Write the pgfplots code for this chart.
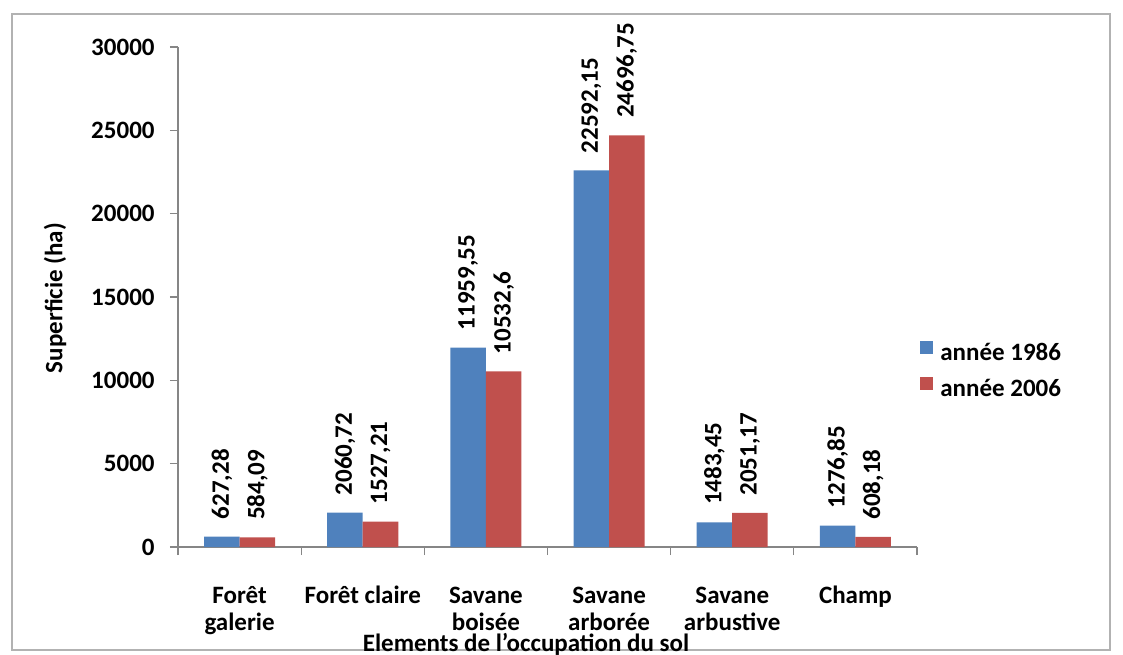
\documentclass[border=0pt]{standalone}
\usepackage{pgfplots}
\pgfplotsset{compat=1.18}
\usepackage{pgfplotstable}
\usepackage{fontspec}
\setmainfont{Carlito}
\definecolor{xblue}{HTML}{4F81BD}
\definecolor{xred}{HTML}{C0504D}
\definecolor{axgray}{HTML}{868686}
\newcommand\cf{\bfseries\fontsize{12.5bp}{13.5bp}\selectfont}
\newcommand\fl{\rule{0pt}{10bp}}

\pgfplotstableread{
x y lab
0 627.28 627,28
1 2060.72 2060,72
2 11959.55 11959,55
3 22592.15 22592,15
4 1483.45 1483,45
5 1276.85 1276,85
}\tA
\pgfplotstableread{
x y lab
0 584.09 584,09
1 1527.21 1527,21
2 10532.6 10532,6
3 24696.75 24696,75
4 2051.17 2051,17
5 608.18 608,18
}\tB

\begin{document}
\begin{tikzpicture}[font=\cf]
\useasboundingbox (-89bp,-54bp) rectangle (472.5bp,273.5bp);
\draw[gray!60, line width=0.8bp] (-83bp,-51.5bp) rectangle (466bp,266.5bp);
\begin{axis}[
  at={(0,0)}, anchor=south west,
  scale only axis, width=369.5bp, height=250bp,
  xmin=-0.5, xmax=5.5, ymin=0, ymax=30000,
  axis lines*=left,
  axis line style={axgray, line width=0.6bp, -},
  tick style={axgray, line width=0.6bp},
  tick align=outside,
  major tick length=4bp,
  ytick={0,5000,10000,15000,20000,25000,30000},
  yticklabel style={anchor=east, inner sep=0pt, xshift=-7.5bp, font=\cf},
  /pgf/number format/assume math mode=true,
  /pgf/number format/1000 sep={},
  scaled y ticks=false,
  xtick={-0.5,0.5,1.5,2.5,3.5,4.5,5.5},
  xticklabels={},
  extra x ticks={0,1,2,3,4,5},
  extra x tick labels={{\fl Forêt\\galerie},{\fl Forêt claire},{\fl Savane\\boisée},{\fl Savane\\arborée},{\fl Savane\\arbustive},{\fl Champ}},
  extra x tick style={major tick length=0pt, xticklabel style={anchor=north, align=center, inner sep=0pt, yshift=-18bp, font=\cf}},
  ybar=0pt, bar width=17.75bp,
  point meta=explicit symbolic,
  nodes near coords,
  nodes near coords style={font=\cf, rotate=90, anchor=west, inner xsep=8.5bp, inner ysep=0pt, black},
  legend cell align=left,
  legend image code/.code={\fill[#1] (0bp,-0.3bp) rectangle (6.5bp,6.2bp);},
  legend style={at={(rel axis cs:1,0)}, anchor=west, xshift=1.5bp, yshift=88bp,
    draw=none, fill=none, inner sep=0pt, row sep=6.5bp, column sep=3.5bp,
    nodes={inner sep=0pt, text height=9bp, text depth=2bp}, font=\cf},
]
\addplot[fill=xblue, draw=none] table[x=x, y=y, meta=lab] {\tA};
\addplot[fill=xred, draw=none] table[x=x, y=y, meta=lab] {\tB};
\legend{année 1986, année 2006}
\end{axis}
\node[rotate=90] at (-61.5bp,124.5bp) {Superficie (ha)};
\node at (174bp,-48.5bp) {Elements de l'occupation du sol};
\end{tikzpicture}
\end{document}
